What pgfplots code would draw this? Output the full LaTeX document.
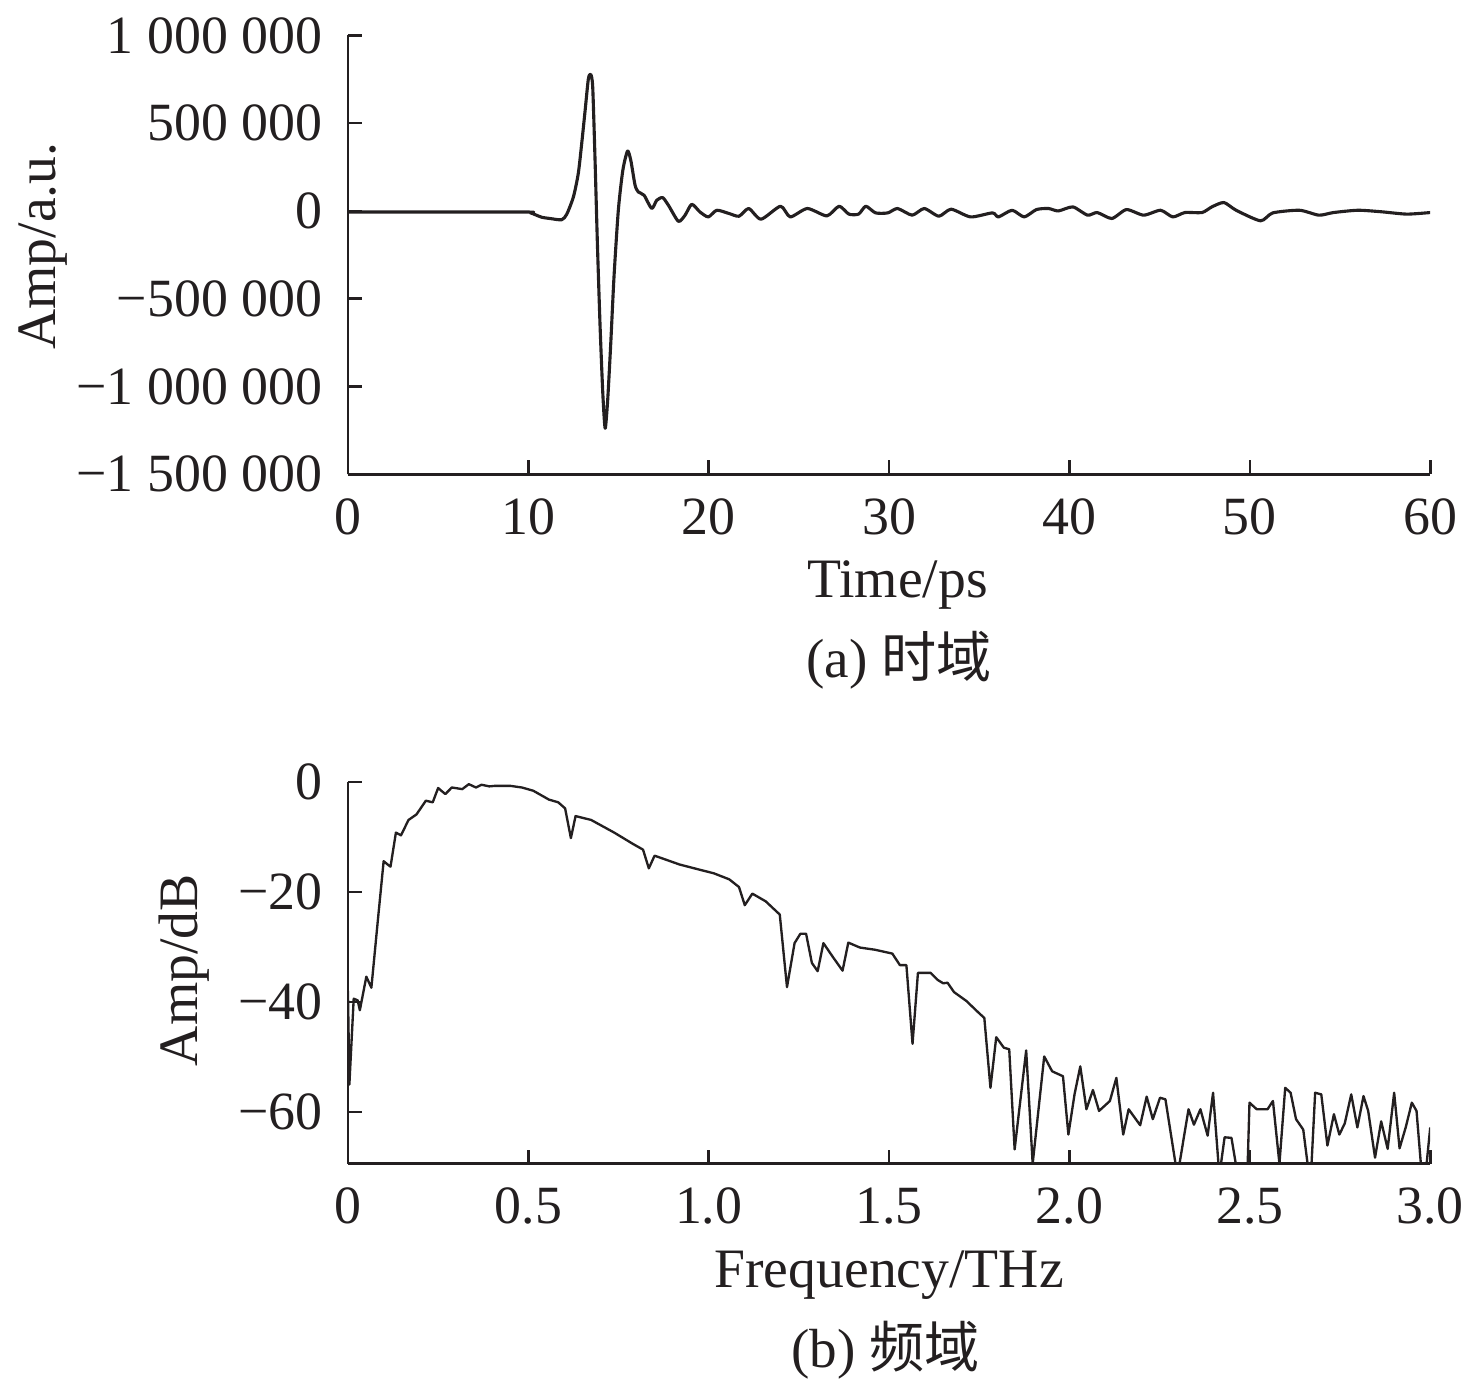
\documentclass[border=0pt]{standalone}
\usepackage{fontspec}
\setmainfont{Liberation Serif}
\newfontfamily\cjk{Noto Sans CJK SC}
\usepackage{pgfplots}
\usepackage{pgfplotstable}
\pgfplotsset{compat=1.18}
\definecolor{ink}{RGB}{35,31,32}

\pgfplotstableread{
t v
0 -6000
9.7 -6000
10.1 -10000
10.4 -22000
10.75 -36000
11.2 -43000
11.85 -50000
12.13 -19000
12.5 80000
12.77 213000
12.96 384000
13.15 573000
13.33 753000
13.46 778000
13.57 706000
13.70 289000
13.83 -186000
13.98 -660000
14.13 -1039000
14.26 -1238000
14.40 -1077000
14.57 -755000
14.75 -376000
14.99 4000
15.24 232000
15.50 341000
15.68 289000
15.92 146000
16.10 108000
16.42 89000
16.84 14000
17.12 61000
17.45 76000
17.77 32000
18.32 -59000
18.69 -24000
19.06 38000
19.52 -6000
19.98 -34000
20.45 4000
21.14 -15000
21.68 -30000
22.22 14000
22.9 -47000
23.98 27000
24.52 -34000
25.47 14000
26.55 -28000
27.23 27000
27.77 -18000
28.31 -18000
28.71 27000
29.25 -11000
29.93 -11000
30.47 14000
31.28 -24000
31.95 14000
32.76 -30000
33.44 10000
34.52 -34000
35.73 -11000
36.06 -34000
36.82 4000
37.49 -34000
38.17 8000
38.84 14000
39.38 0
40.19 23000
41.0 -24000
41.54 -9000
42.35 -43000
43.16 8000
44.11 -24000
45.05 4000
45.73 -34000
46.4 -9000
47.35 -9000
47.89 23000
48.56 48000
49.24 4000
50.59 -56000
51.27 -11000
52.75 4000
53.83 -24000
54.64 -9000
56.0 4000
57.33 -5000
58.7 -18000
60.0 -9000
}\timedata

\pgfplotstableread{
f d
0 -38
0.004 -55
0.016 -39.4
0.027 -39.7
0.033 -41.5
0.051 -35.4
0.065 -37.4
0.083 -25.1
0.099 -14.4
0.11 -15.0
0.118 -15.4
0.133 -9.2
0.147 -9.7
0.168 -6.9
0.19 -5.9
0.216 -3.4
0.235 -3.7
0.25 -1.1
0.27 -2.2
0.288 -1.0
0.317 -1.3
0.335 -0.4
0.355 -1.0
0.37 -0.5
0.392 -0.8
0.408 -0.7
0.45 -0.7
0.482 -1.0
0.514 -1.6
0.557 -3.2
0.583 -3.7
0.602 -4.8
0.618 -10.2
0.631 -6.2
0.674 -6.9
0.738 -9.2
0.791 -11.3
0.818 -12.3
0.834 -15.7
0.85 -13.4
0.876 -14.0
0.919 -15.0
0.972 -15.9
1.014 -16.6
1.057 -17.7
1.084 -19.1
1.1 -22.4
1.121 -20.3
1.158 -21.7
1.197 -24.1
1.217 -37.3
1.238 -29.3
1.254 -27.6
1.27 -27.6
1.286 -32.9
1.302 -34.4
1.318 -29.3
1.344 -31.8
1.371 -34.3
1.387 -29.2
1.419 -30.1
1.461 -30.5
1.509 -31.2
1.53 -33.3
1.548 -33.3
1.565 -47.6
1.580 -34.7
1.615 -34.7
1.635 -36.0
1.65 -36.6
1.662 -36.5
1.68 -38.2
1.714 -39.8
1.749 -42.0
1.764 -42.9
1.781 -55.6
1.797 -46.4
1.818 -48.3
1.833 -48.6
1.848 -66.8
1.88 -48.8
1.898 -69.4
1.93 -49.9
1.952 -52.6
1.982 -53.5
1.997 -64.1
2.014 -56.8
2.03 -51.7
2.047 -59.5
2.065 -56.0
2.082 -59.8
2.112 -58.0
2.13 -53.8
2.149 -64.1
2.164 -59.5
2.196 -62.4
2.214 -57.2
2.231 -61.3
2.251 -57.4
2.266 -57.7
2.294 -69.4
2.305 -69.4
2.330 -59.5
2.345 -62.3
2.363 -59.5
2.383 -64.3
2.398 -56.5
2.413 -69.4
2.42 -69.4
2.430 -64.6
2.449 -64.7
2.461 -69.4
2.494 -69.4
2.499 -58.3
2.519 -59.5
2.549 -59.5
2.564 -58.0
2.582 -69.4
2.598 -55.6
2.613 -56.5
2.628 -61.3
2.648 -63.2
2.660 -69.4
2.671 -69.4
2.681 -56.5
2.698 -56.8
2.715 -66.1
2.733 -60.4
2.748 -64.1
2.763 -62.1
2.781 -56.8
2.798 -62.8
2.815 -57.1
2.828 -59.8
2.847 -68.3
2.864 -61.7
2.882 -66.7
2.9 -56.5
2.915 -66.6
2.932 -62.8
2.949 -58.3
2.962 -59.8
2.974 -69.4
2.99 -69.4
3.0 -62.8
}\freqdata

\pgfplotsset{
  myax/.style={
    scale only axis, width=208.1pt,
    axis lines=left, axis line style={-, line width=0.5pt, ink},
    tick align=inside, major tick length=2.7pt,
    every tick/.style={line width=0.5pt, ink},
    tick label style={font=\fontsize{10.35}{12}\selectfont, text=ink},
    label style={font=\fontsize{10.7}{12}\selectfont, text=ink},
    yticklabel style={xshift=-1.4pt},
    xticklabel style={yshift=-1.1pt},
    scaled ticks=false,
  }
}

\begin{document}
\begin{tikzpicture}
\path[use as bounding box] (-66.9pt,-176.9pt) rectangle (216.9pt,91.2pt);

\begin{axis}[myax,
  at={(0pt,0pt)}, anchor=south west,
  height=84.4pt,
  xmin=0, xmax=60, ymin=-1500000, ymax=1000000,
  xtick={0,10,20,30,40,50,60},
  xticklabels={0,10,20,30,40,50,60},
  ytick={-1500000,-1000000,-500000,0,500000,1000000},
  yticklabels={−1~500~000,−1~000~000,−500~000,0,500~000,1~000~000},
  xlabel={Time/ps},
  xlabel style={at={(axis description cs:0.5,0)}, anchor=base, yshift=-23.7pt, xshift=1.6pt},
  ylabel={Amp/a.u.},
  ylabel style={at={(axis description cs:-0.2705,0.52)}, anchor=base},
]
\addplot[ink, line width=0.6pt, line join=round, smooth, tension=0.4] table[x=t, y=v] {\timedata};
\end{axis}

\begin{axis}[myax,
  at={(0pt,-132.55pt)}, anchor=south west,
  height=73.4pt,
  xmin=0, xmax=3, ymin=-69.4, ymax=0,
  xtick={0,0.5,1,1.5,2,2.5,3},
  xticklabels={0,0.5,1.0,1.5,2.0,2.5,3.0},
  ytick={-60,-40,-20,0},
  yticklabels={−60,−40,−20,0},
  xlabel={Frequency/THz},
  xlabel style={at={(axis description cs:0.5,0)}, anchor=base, yshift=-23.8pt},
  ylabel={Amp/dB},
  ylabel style={at={(axis description cs:-0.1394,0.507)}, anchor=base},
]
\addplot[ink, line width=0.45pt, line join=round] table[x=f, y=d] {\freqdata};
\end{axis}

\node[anchor=base, text=ink, font=\fontsize{10.6}{12}\selectfont] at (106.0pt,-39.0pt) {(a) {\cjk 时域}};
\node[anchor=base, text=ink, font=\fontsize{10.6}{12}\selectfont] at (103.4pt,-171.7pt) {(b) {\cjk 频域}};
\end{tikzpicture}
\end{document}
